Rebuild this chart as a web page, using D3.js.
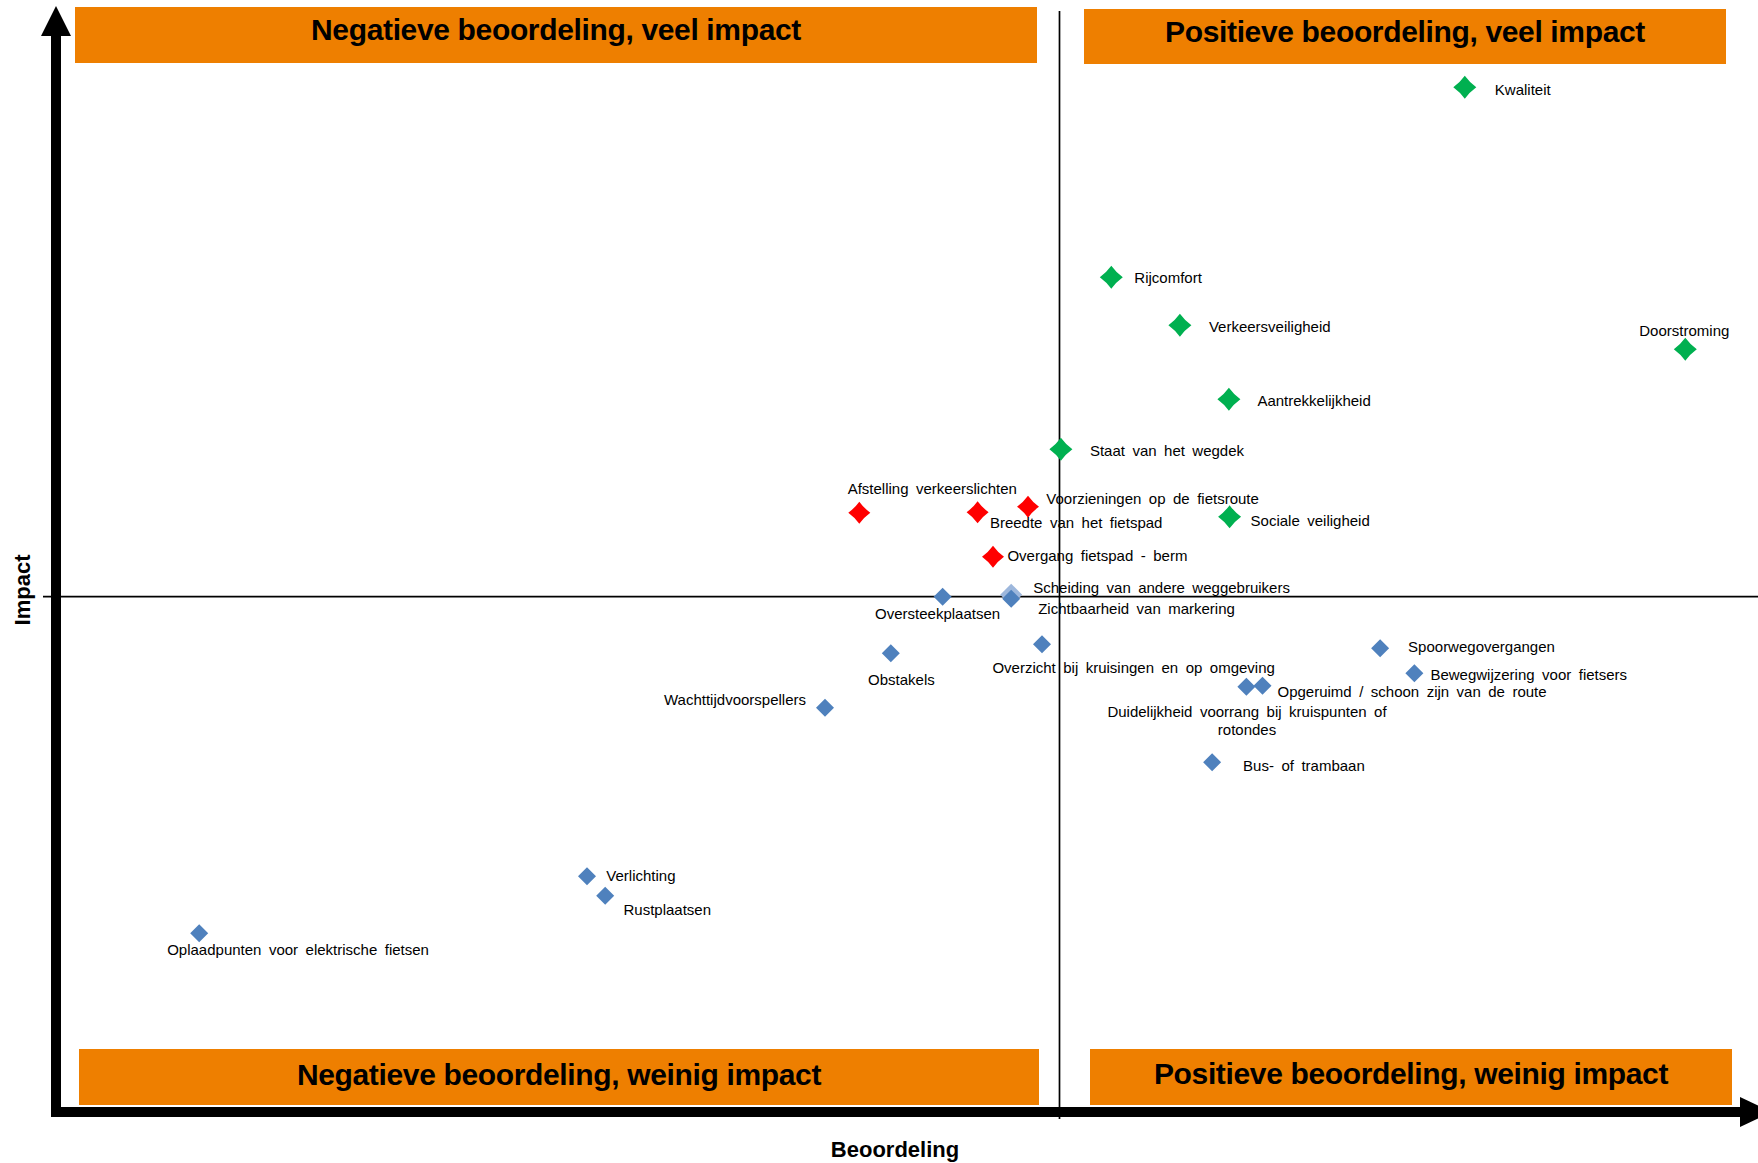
<!DOCTYPE html>
<html>
<head>
<meta charset="utf-8">
<script src="https://cdn.jsdelivr.net/npm/d3@7"></script>
<style>
  html, body { margin: 0; padding: 0; background: #ffffff; }
  svg { display: block; }
  text { font-family: "Liberation Sans", Arial, sans-serif; }
</style>
</head>
<body>
<svg id="chart" width="1758" height="1163"></svg>
<script>
// ---------------- DATA ----------------
// Beoordeling (x) and Impact (y), expressed relative to the quadrant crossing (0,0)
const greenNames = ["Kwaliteit", "Rijcomfort", "Verkeersveiligheid", "Doorstroming",
  "Aantrekkelijkheid", "Staat van het wegdek", "Sociale veiligheid"];
const greenX = [0.579, 0.074, 0.172, 0.894, 0.242, 0.002, 0.243];
const greenY = [1.019, 0.639, 0.543, 0.495, 0.395, 0.295, 0.160];

const redNames = ["Afstelling verkeerslichten", "Breedte van het fietspad",
  "Voorzieningen op de fietsroute", "Overgang fietspad - berm"];
const redX = [-0.286, -0.117, -0.045, -0.095];
const redY = [0.168, 0.169, 0.180, 0.080];

const blueNames = ["Oversteekplaatsen", "Zichtbaarheid van markering",
  "Overzicht bij kruisingen en op omgeving", "Obstakels", "Wachttijdvoorspellers",
  "Spoorwegovergangen", "Bewegwijzering voor fietsers", "Opgeruimd / schoon zijn van de route",
  "Duidelijkheid voorrang bij kruispunten of\nrotondes", "Bus- of trambaan", "Verlichting",
  "Rustplaatsen", "Oplaadpunten voor elektrische fietsen"];
const blueX = [-0.167, -0.069, -0.025, -0.241, -0.335, 0.458, 0.507, 0.290, 0.267, 0.218, -0.675, -0.649, -1.229];
const blueY = [0.000, -0.004, -0.095, -0.113, -0.222, -0.103, -0.153, -0.178, -0.180, -0.331, -0.559, -0.598, -0.673];

// highlighted (lighter) point
const lightNames = ["Scheiding van andere weggebruikers"];
const lightX = [-0.069];
const lightY = [0.004];

const quadrantTitles = ["Negatieve beoordeling, veel impact", "Positieve beoordeling, veel impact",
  "Negatieve beoordeling, weinig impact", "Positieve beoordeling, weinig impact"];
const axisTitles = ["Beoordeling", "Impact"];

// ---------------- LAYOUT ----------------
const W = 1758, H = 1163;
const svg = d3.select("#chart");

const x = d3.scaleLinear().domain([-1.5, 1.0]).range([9.5, 1759.5]);
const y = d3.scaleLinear().domain([-1.03, 1.18]).range([1111.7, 6.7]);

const colors = { green: "#00B050", red: "#FF0000", blue: "#4F81BD", light: "#9DB7DC", orange: "#EE7F00" };

// label placement: anchor, dx, dy (relative to the marker centre; dy = text middle)
const labelLayout = {
  "Kwaliteit": ["start", 30, 2],
  "Rijcomfort": ["start", 23, 0],
  "Verkeersveiligheid": ["start", 29, 1.7],
  "Doorstroming": ["middle", -1, -19],
  "Aantrekkelijkheid": ["start", 28.5, 1.7],
  "Staat van het wegdek": ["start", 29, 1.7],
  "Sociale veiligheid": ["start", 21, 3.5],
  "Afstelling verkeerslichten": ["start", -11.6, -23.7],
  "Breedte van het fietspad": ["start", 12.3, 10],
  "Voorzieningen op de fietsroute": ["start", 18.3, -7.7],
  "Overgang fietspad - berm": ["start", 14.4, -1.2],
  "Scheiding van andere weggebruikers": ["start", 22, -7.2],
  "Oversteekplaatsen": ["middle", -5, 17.3],
  "Zichtbaarheid van markering": ["start", 27, 9.8],
  "Overzicht bij kruisingen en op omgeving": ["start", -49.6, 23.8],
  "Obstakels": ["middle", 10.6, 26.2],
  "Wachttijdvoorspellers": ["end", -19, -8],
  "Spoorwegovergangen": ["start", 28, -1.8],
  "Bewegwijzering voor fietsers": ["start", 16, 0.9],
  "Opgeruimd / schoon zijn van de route": ["start", 15, 6],
  "Duidelijkheid voorrang bij kruispunten of\nrotondes": ["middle", 0.6, 25],
  "Bus- of trambaan": ["start", 31, 3.5],
  "Verlichting": ["start", 19.3, -1],
  "Rustplaatsen": ["start", 18.3, 14.3],
  "Oplaadpunten voor elektrische fietsen": ["start", -32, 16.7]
};

// ---------------- BANNERS ----------------
const banners = [
  { x0: 75, x1: 1037, y0: 7, y1: 63, base: 40 },
  { x0: 1084, x1: 1726, y0: 9, y1: 64, base: 42 },
  { x0: 79, x1: 1039, y0: 1049, y1: 1105, base: 1085 },
  { x0: 1090, x1: 1732, y0: 1049, y1: 1105, base: 1084 }
];
const bg = svg.append("g");
banners.forEach((b, i) => {
  bg.append("rect").attr("x", b.x0).attr("y", b.y0)
    .attr("width", b.x1 - b.x0).attr("height", b.y1 - b.y0)
    .attr("fill", colors.orange);
  bg.append("text").attr("x", (b.x0 + b.x1) / 2).attr("y", b.base)
    .attr("text-anchor", "middle")
    .attr("font-size", 30).attr("font-weight", "bold").attr("fill", "#000")
    .attr("letter-spacing", -0.35)
    .text(quadrantTitles[i]);
});

// ---------------- QUADRANT LINES ----------------
svg.append("line").attr("x1", x(0)).attr("x2", x(0)).attr("y1", 11).attr("y2", 1119)
  .attr("stroke", "#000").attr("stroke-width", 1.7);
svg.append("line").attr("x1", 43).attr("x2", W).attr("y1", y(0)).attr("y2", y(0))
  .attr("stroke", "#000").attr("stroke-width", 1.7);

// ---------------- AXES (arrows) ----------------
const axisX = 56, axisY = 1112;
svg.append("rect").attr("x", axisX - 5).attr("y", 30).attr("width", 10).attr("height", axisY + 5 - 30).attr("fill", "#000");
svg.append("path").attr("d", `M${axisX},6 L${axisX - 15},36 L${axisX + 15},36 Z`).attr("fill", "#000");
svg.append("rect").attr("x", axisX - 5).attr("y", axisY - 5).attr("width", 1745 - (axisX - 5)).attr("height", 10).attr("fill", "#000");
svg.append("path").attr("d", `M1740,${axisY - 15} L1772,${axisY} L1740,${axisY + 15} Z`).attr("fill", "#000");

svg.append("text").attr("x", 895).attr("y", 1157).attr("text-anchor", "middle")
  .attr("font-size", 22).attr("font-weight", "bold").attr("fill", "#000").text(axisTitles[0]);
svg.append("text").attr("transform", "translate(30,590) rotate(-90)").attr("text-anchor", "middle")
  .attr("font-size", 22).attr("font-weight", "bold").attr("fill", "#000").text(axisTitles[1]);

// ---------------- MARKERS ----------------
function straightDiamond(r) { return `M0,${-r} L${r},0 L0,${r} L${-r},0 Z`; }
function concaveDiamond(r) {
  const c = r * 0.42;
  return `M0,${-r} Q${c},${-c} ${r},0 Q${c},${c} 0,${r} Q${-c},${c} ${-r},0 Q${-c},${-c} 0,${-r} Z`;
}

function series(names, xs, ys, color, shape) {
  return names.map((n, i) => ({ name: n, x: xs[i], y: ys[i], color, shape }));
}
const lightPts = series(lightNames, lightX, lightY, colors.light, straightDiamond(11));
const bluePts = series(blueNames, blueX, blueY, colors.blue, straightDiamond(9));
const redPts = series(redNames, redX, redY, colors.red, concaveDiamond(11));
const greenPts = series(greenNames, greenX, greenY, colors.green, concaveDiamond(11.5));
const allPts = [...lightPts, ...bluePts, ...redPts, ...greenPts];

svg.append("g").selectAll("path").data(allPts).join("path")
  .attr("transform", d => `translate(${x(d.x)},${y(d.y)})`)
  .attr("d", d => d.shape)
  .attr("fill", d => d.color);

// ---------------- LABELS ----------------
const lg = svg.append("g").attr("font-size", 15).attr("fill", "#000").attr("word-spacing", 3.3);
allPts.forEach(d => {
  const [anchor, dx, dy] = labelLayout[d.name];
  const lines = d.name.split("\n");
  const t = lg.append("text").attr("text-anchor", anchor);
  lines.forEach((ln, k) => {
    t.append("tspan").attr("x", x(d.x) + dx).attr("y", y(d.y) + dy + 5.4 + k * 17.8).text(ln);
  });
});
</script>
</body>
</html>
